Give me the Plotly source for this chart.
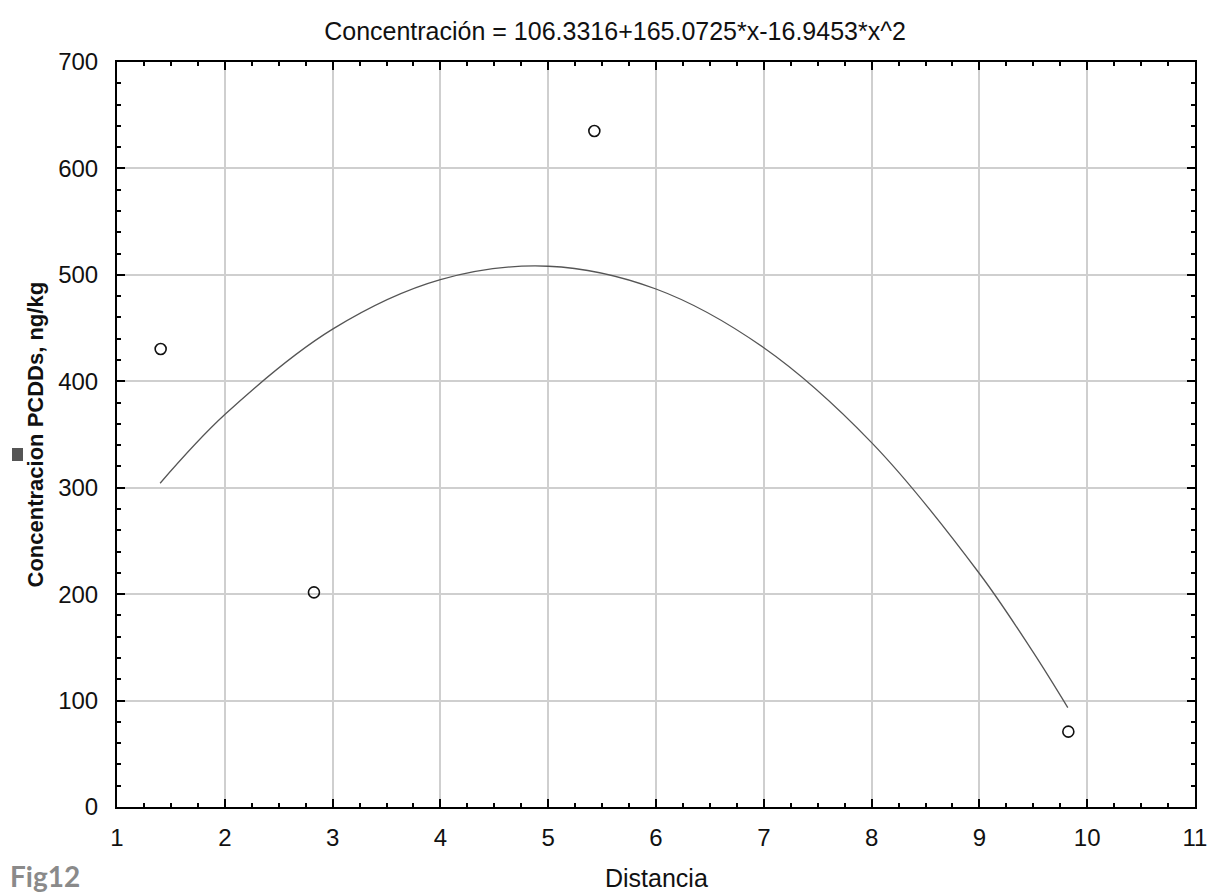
import plotly.graph_objects as go

# Observed data
dist = [1.405, 2.827, 5.428, 9.825]
conc = [430.3, 201.7, 635.2, 70.8]

# Fitted curve
fit_x = [1.4, 2.0, 3.0, 4.0, 5.0, 6.0, 7.0, 8.0, 9.0, 9.5, 9.82]
fit_y = [304.2, 368.7, 449.0, 495.5, 508.1, 486.7, 431.5, 342.4, 219.4, 145.2, 93.3]

x_ticks = [1, 2, 3, 4, 5, 6, 7, 8, 9, 10, 11]
y_ticks = [0, 100, 200, 300, 400, 500, 600, 700]

title_text = "Concentración = 106.3316+165.0725*x-16.9453*x^2"
y_title = "Concentracion PCDDs, ng/kg"
x_title = "Distancia"
fig_label = "Fig12"

FONT = "Liberation Sans, Arial, sans-serif"
OFF = 8  # default page body margin

W, H = 1229 - OFF, 894 - OFF
L, T = 117 - OFF, 62 - OFF
R = W - (1195 - OFF)
B = H - (807 - OFF)
pw = W - L - R
ph = H - T - B

def px_x(xp):
    return (xp - OFF - L) / pw

def px_y(yp):
    return 1 - (yp - OFF - T) / ph

fig = go.Figure()
fig.add_trace(go.Scatter(
    x=fit_x, y=fit_y, mode="lines", line=dict(color="#555555", width=1.3, shape="spline"),
    hoverinfo="skip", showlegend=False))
fig.add_trace(go.Scatter(
    x=dist, y=conc, mode="markers",
    marker=dict(symbol="circle-open", size=11, color="#111111", line=dict(width=1.6)),
    showlegend=False))

axis_common = dict(
    showline=True, linecolor="black", linewidth=2, mirror="ticks",
    ticks="inside", ticklen=8, tickwidth=2, tickcolor="black",
    showgrid=True, gridcolor="#cfcfcf", gridwidth=1.5, zeroline=False,
    tickfont=dict(family=FONT, size=24, color="#111111"),
)

fig.update_xaxes(
    range=[1, 11], tickvals=x_ticks, ticktext=[str(v) for v in x_ticks],
    minor=dict(dtick=0.25, ticks="inside", ticklen=4, tickwidth=1.5, tickcolor="black", showgrid=False),
    ticklabelstandoff=8,
    **axis_common)
fig.update_yaxes(
    range=[0, 700], tickvals=y_ticks, ticktext=[str(v) for v in y_ticks],
    minor=dict(dtick=20, ticks="inside", ticklen=4, tickwidth=1.5, tickcolor="black", showgrid=False),
    ticklabelstandoff=12,
    **axis_common)

fig.update_layout(
    width=W, height=H,
    margin=dict(l=L, r=R, t=T, b=B, autoexpand=False),
    paper_bgcolor="white", plot_bgcolor="white",
    title=dict(text=title_text, x=(615 - OFF) / W, xref="container", xanchor="center",
               y=1 - (31 - OFF) / H, yanchor="middle", yref="container",
               font=dict(family=FONT, size=25, color="#111111")),
    font=dict(family=FONT),
)

fig.add_annotation(
    text=x_title, xref="paper", yref="paper",
    x=0.5, y=px_y(878), xanchor="center", yanchor="middle",
    showarrow=False, font=dict(family=FONT, size=25, color="#111111"))
fig.add_annotation(
    text="<b>" + y_title + "</b>", xref="paper", yref="paper", textangle=-90,
    x=px_x(35), y=0.5, xanchor="center", yanchor="middle",
    showarrow=False, font=dict(family=FONT, size=22, color="#111111"))
fig.add_annotation(
    text="<b>" + fig_label + "</b>", xref="paper", yref="paper",
    x=px_x(OFF), y=px_y(876), xanchor="left", yanchor="middle",
    showarrow=False, font=dict(family="Lato, DejaVu Sans, sans-serif", size=28, color="#8a8a8a"))
# small gray box beside the y-axis title
fig.add_shape(type="rect", xref="paper", yref="paper",
              x0=px_x(12), x1=px_x(23), y0=px_y(461), y1=px_y(448),
              fillcolor="#555555", line=dict(width=0))

fig.write_html("out.html")
